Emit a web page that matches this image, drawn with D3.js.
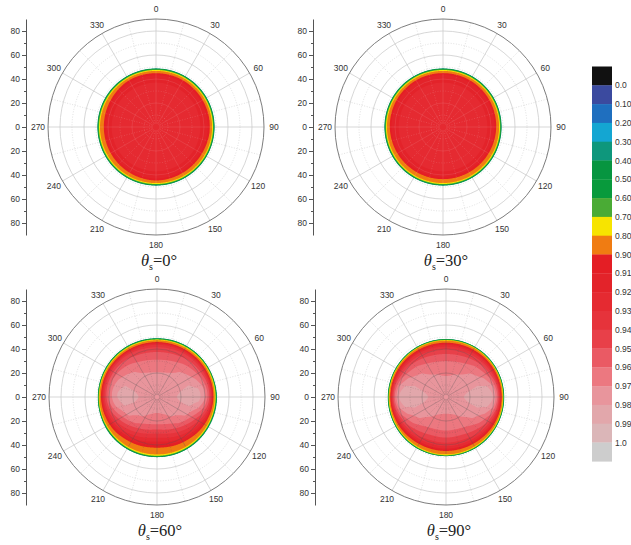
<!DOCTYPE html>
<html>
<head>
<meta charset="utf-8">
<script src="https://cdn.jsdelivr.net/npm/d3@7"></script>
<style>
  html, body { margin: 0; padding: 0; background: #fff; }
  svg { display: block; }
  .tick text, .lbl { font-family: "Liberation Sans", Arial, sans-serif; }
</style>
</head>
<body>
<svg id="chart" width="631" height="545"></svg>
<script>
// ---- data -------------------------------------------------------------
// Polar sampling of each map: rows = viewing zenith (deg), columns = azimuth (deg, 0 up, clockwise)
const zenithRows  = [0, 10, 20, 28, 35, 40, 43, 45, 46, 47, 48, 49, 50, 51];
const azimuthCols = [0, 30, 60, 90, 120, 150, 180, 210, 240, 270, 300, 330];

// theta_s = 0 deg
const grid0 = [
  [.925,.925,.925,.925,.925,.925,.925,.925,.925,.925,.925,.925],
  [.925,.925,.925,.925,.925,.925,.925,.925,.925,.925,.925,.925],
  [.925,.925,.925,.925,.925,.925,.925,.925,.925,.925,.925,.925],
  [.924,.924,.924,.924,.924,.924,.924,.924,.924,.924,.924,.924],
  [.922,.922,.922,.922,.922,.922,.922,.922,.922,.922,.922,.922],
  [.917,.917,.917,.917,.917,.917,.917,.917,.917,.917,.917,.917],
  [.911,.911,.911,.911,.909,.909,.910,.908,.905,.904,.907,.911],
  [.900,.900,.899,.900,.894,.894,.897,.892,.888,.887,.891,.900],
  [.860,.860,.860,.860,.855,.855,.857,.852,.850,.850,.852,.860],
  [.780,.780,.780,.780,.780,.780,.780,.780,.775,.775,.775,.780],
  [.620,.620,.620,.620,.620,.620,.620,.620,.620,.620,.620,.620],
  [.250,.250,.250,.250,.250,.250,.250,.250,.250,.250,.250,.250],
  [-1,-1,-1,-1,-1,-1,-1,-1,-1,-1,-1,-1],
  [-1,-1,-1,-1,-1,-1,-1,-1,-1,-1,-1,-1]
];

// theta_s = 30 deg
const grid30 = [
  [.925,.925,.925,.925,.925,.925,.925,.925,.925,.925,.925,.925],
  [.925,.925,.925,.925,.925,.925,.925,.925,.925,.925,.925,.925],
  [.925,.925,.925,.925,.925,.925,.925,.925,.925,.925,.925,.925],
  [.924,.924,.924,.924,.924,.924,.924,.924,.924,.924,.924,.924],
  [.922,.922,.922,.922,.922,.922,.922,.922,.922,.922,.922,.922],
  [.917,.917,.917,.917,.917,.917,.917,.917,.917,.917,.917,.917],
  [.912,.912,.911,.910,.908,.905,.904,.905,.908,.910,.911,.912],
  [.901,.900,.898,.895,.890,.887,.886,.887,.890,.895,.898,.900],
  [.860,.860,.858,.855,.850,.848,.848,.848,.850,.855,.858,.860],
  [.780,.780,.780,.780,.780,.780,.780,.780,.780,.780,.780,.780],
  [.620,.620,.620,.620,.620,.620,.620,.620,.620,.620,.620,.620],
  [.250,.250,.250,.250,.250,.250,.250,.250,.250,.250,.250,.250],
  [-1,-1,-1,-1,-1,-1,-1,-1,-1,-1,-1,-1],
  [-1,-1,-1,-1,-1,-1,-1,-1,-1,-1,-1,-1]
];

// theta_s = 60 deg
const grid60 = [
  [.975,.975,.975,.975,.975,.975,.975,.975,.975,.975,.975,.975],
  [.974,.974,.975,.977,.975,.973,.972,.973,.975,.977,.975,.974],
  [.9705,.972,.976,.9815,.975,.969,.966,.969,.975,.9825,.976,.972],
  [.964,.967,.976,.986,.972,.956,.948,.956,.972,.985,.976,.967],
  [.955,.958,.968,.983,.955,.937,.927,.937,.955,.978,.968,.958],
  [.945,.948,.957,.970,.940,.920,.912,.920,.940,.962,.957,.948],
  [.935,.938,.945,.955,.925,.905,.896,.905,.925,.945,.945,.938],
  [.915,.920,.930,.938,.910,.885,.875,.885,.910,.928,.930,.920],
  [.895,.900,.915,.925,.895,.870,.862,.870,.895,.915,.915,.900],
  [.850,.860,.885,.900,.865,.845,.840,.845,.865,.890,.885,.860],
  [.680,.720,.790,.830,.800,.800,.800,.800,.800,.810,.770,.720],
  [.350,.450,.580,.660,.640,.680,.700,.680,.640,.560,.500,.450],
  [-.6,-.5,-.2,.3,.25,.4,.45,.4,.25,-.3,-.3,-.5],
  [-1,-1,-1,-1,-1,-.5,-.5,-.5,-1,-1,-1,-1]
];

// theta_s = 90 deg
const grid90 = [
  [.975,.975,.975,.975,.975,.975,.975,.975,.975,.975,.975,.975],
  [.973,.974,.976,.978,.976,.973,.972,.973,.976,.978,.976,.974],
  [.969,.971,.976,.982,.976,.969,.967,.969,.976,.982,.976,.971],
  [.963,.966,.975,.987,.974,.962,.960,.962,.974,.987,.975,.966],
  [.952,.956,.968,.988,.965,.950,.948,.950,.965,.988,.968,.956],
  [.940,.944,.955,.978,.952,.937,.935,.937,.952,.978,.955,.944],
  [.925,.930,.940,.958,.935,.922,.920,.922,.935,.958,.940,.930],
  [.905,.910,.920,.935,.915,.902,.900,.902,.915,.935,.920,.910],
  [.885,.890,.905,.915,.900,.887,.885,.887,.900,.915,.905,.890],
  [.820,.825,.845,.865,.860,.855,.855,.855,.860,.865,.845,.825],
  [.550,.550,.580,.620,.680,.760,.790,.760,.680,.620,.580,.550],
  [-.2,-.2,-.15,0,.2,.5,.6,.5,.2,0,-.15,-.2],
  [-1,-1,-1,-1,-1,-.6,-.4,-.6,-1,-1,-1,-1],
  [-1,-1,-1,-1,-1,-1,-1,-1,-1,-1,-1,-1]
];

// colour levels (class boundaries) and the colour of each class, lowest first
const levelBreaks = [0, 0.1, 0.2, 0.3, 0.4, 0.5, 0.6, 0.7, 0.8, 0.9,
                     0.91, 0.92, 0.93, 0.94, 0.95, 0.96, 0.97, 0.98, 0.99, 1.0];
const levelColors = ["#111111", "#3b4a9f", "#1f6fbf", "#14a6d2", "#0e977c", "#079540",
                     "#089a3c", "#4aab35", "#f7e400", "#f07c12", "#e41e25", "#e3232a",
                     "#e52a31", "#e6333b", "#e84049", "#ea5a64", "#ec7880", "#e8959c",
                     "#e2a7ab", "#dbb6b8", "#cdcdcd"];
const colorbarLabels = ["0.0", "0.10", "0.20", "0.30", "0.40", "0.50", "0.60", "0.70", "0.80", "0.90",
                        "0.91", "0.92", "0.93", "0.94", "0.95", "0.96", "0.97", "0.98", "0.99", "1.0"];

const angleLabels = [0, 30, 60, 90, 120, 150, 180, 210, 240, 270, 300, 330];
const zenithMajorTicks = [-80, -60, -40, -20, 0, 20, 40, 60, 80];
const zenithMinorTicks = [-70, -50, -30, -10, 10, 30, 50, 70];
const captionAngles = ["0°", "30°", "60°", "90°"];

// ---- layout -----------------------------------------------------------
const svg = d3.select("#chart");
const R = 108;                 // pixel radius of the 90 deg ring
const panels = [
  { grid: grid0,  cap: captionAngles[0], cx: 156, cy: 127, axisX: 26,  overlay: "light" },
  { grid: grid30, cap: captionAngles[1], cx: 443, cy: 127, axisX: 313, overlay: "light" },
  { grid: grid60, cap: captionAngles[2], cx: 157, cy: 397, axisX: 26,  overlay: "dark" },
  { grid: grid90, cap: captionAngles[3], cx: 446, cy: 397, axisX: 315, overlay: "dark" }
];

const color = d3.scaleThreshold().domain(levelBreaks).range(levelColors);
const contourLevels = levelBreaks.filter(v => v >= 0.3);

// periodic Catmull-Rom along azimuth, linear along zenith
function catmull(p0, p1, p2, p3, t) {
  const t2 = t * t, t3 = t2 * t;
  return 0.5 * (2 * p1 + (-p0 + p2) * t + (2 * p0 - 5 * p1 + 4 * p2 - p3) * t2 + (-p0 + 3 * p1 - 3 * p2 + p3) * t3);
}
function fieldAt(grid, zen, az) {
  const last = zenithRows.length - 1;
  if (zen >= zenithRows[last]) return -1;
  const k = Math.min(d3.bisectRight(zenithRows, zen) - 1, last - 1);
  const t = (zen - zenithRows[k]) / (zenithRows[k + 1] - zenithRows[k]);
  const n = azimuthCols.length, dA = 360 / n;
  const u = az / dA, i0 = Math.floor(u), f = u - i0;
  const rowVal = row => catmull(row[(i0 - 1 + n) % n], row[i0 % n], row[(i0 + 1) % n], row[(i0 + 2) % n], f);
  return rowVal(grid[k]) * (1 - t) + rowVal(grid[k + 1]) * t;
}

const N = 241, EXT = 52, STEP = 2 * EXT / (N - 1);

function drawGrid(g, p, rs, st) {
  const rings = [10, 20, 30, 40, 50, 60, 70, 80];
  g.selectAll(null).data(rings).join("circle")
    .attr("cx", p.cx).attr("cy", p.cy).attr("r", d => rs(d))
    .attr("fill", "none")
    .attr("stroke", d => d % 20 === 0 ? st.solid : st.dot)
    .attr("stroke-width", d => d % 20 === 0 ? 0.8 : 0.7)
    .attr("stroke-dasharray", d => d % 20 === 0 ? null : "1,1.6");
  const spokes = d3.range(0, 360, 15);
  const r0 = st.inner || 0;
  g.selectAll(null).data(spokes).join("line")
    .attr("x1", d => p.cx + rs(r0) * Math.sin(d * Math.PI / 180))
    .attr("y1", d => p.cy - rs(r0) * Math.cos(d * Math.PI / 180))
    .attr("x2", d => p.cx + rs(90) * Math.sin(d * Math.PI / 180))
    .attr("y2", d => p.cy - rs(90) * Math.cos(d * Math.PI / 180))
    .attr("stroke", d => d % 30 === 0 ? st.solid : st.dot)
    .attr("stroke-width", d => d % 30 === 0 ? 0.8 : 0.7)
    .attr("stroke-dasharray", d => d % 30 === 0 ? null : "1,1.6");
}

panels.forEach((p, pi) => {
  const g = svg.append("g");
  const rs = d3.scaleLinear().domain([0, 90]).range([0, R]);
  const xs = d3.scaleLinear().domain([-90, 90]).range([p.cx - R, p.cx + R]);
  const ys = d3.scaleLinear().domain([-90, 90]).range([p.cy + R, p.cy - R]);

  // background polar grid
  drawGrid(g, p, rs, { solid: "#cdcdcd", dot: "#d2d2d2" });

  // filled contours of the field
  const values = new Float64Array(N * N);
  for (let j = 0; j < N; j++) {
    const y = EXT - j * STEP;
    for (let i = 0; i < N; i++) {
      const x = -EXT + i * STEP;
      const zen = Math.hypot(x, y);
      let az = Math.atan2(x, y) * 180 / Math.PI;
      if (az < 0) az += 360;
      values[j * N + i] = fieldAt(p.grid, zen, az);
    }
  }
  const bands = d3.contours().size([N, N]).thresholds(contourLevels)(values);
  const proj = d3.geoTransform({
    point: function (gx, gy) {
      this.stream.point(xs(-EXT + (gx - 0.5) * STEP), ys(EXT - (gy - 0.5) * STEP));
    }
  });
  const path = d3.geoPath(proj);
  g.append("g").selectAll("path").data(bands).join("path")
    .attr("d", path)
    .attr("fill", d => color(d.value));

  // grid seen through the map
  const clipId = "disk" + pi;
  g.append("clipPath").attr("id", clipId)
    .append("circle").attr("cx", p.cx).attr("cy", p.cy).attr("r", rs(47.5));
  const over = g.append("g").attr("clip-path", `url(#${clipId})`);
  drawGrid(over, p, rs, p.overlay === "light"
    ? { solid: "rgba(255,255,255,0.12)", dot: "rgba(255,255,255,0.2)", inner: 3 }
    : { solid: "rgba(80,80,80,0.36)", dot: "rgba(80,80,80,0.26)", inner: 2 });

  // outer ring
  g.append("circle").attr("cx", p.cx).attr("cy", p.cy).attr("r", rs(90))
    .attr("fill", "none").attr("stroke", "#6e6e6e").attr("stroke-width", 0.9);

  // azimuth labels
  g.selectAll(null).data(angleLabels).join("text")
    .attr("class", "lbl")
    .attr("x", d => p.cx + (R + 10) * Math.sin(d * Math.PI / 180))
    .attr("y", d => p.cy - (R + 10) * Math.cos(d * Math.PI / 180))
    .attr("text-anchor", "middle").attr("dominant-baseline", "central")
    .attr("font-size", 8.5).attr("fill", "#333")
    .text(d => d);

  // zenith axis
  const ax = g.append("g").attr("transform", `translate(${p.axisX},0)`)
    .call(d3.axisLeft(ys).tickValues(zenithMajorTicks).tickFormat(d => Math.abs(d))
      .tickSize(4).tickSizeOuter(0).tickPadding(2));
  ax.select(".domain").attr("stroke", "#555");
  ax.selectAll(".tick line").attr("stroke", "#555");
  ax.selectAll(".tick text").attr("font-size", 8.5).attr("fill", "#333");
  const axm = g.append("g").attr("transform", `translate(${p.axisX},0)`)
    .call(d3.axisLeft(ys).tickValues(zenithMinorTicks).tickFormat("").tickSize(2).tickSizeOuter(0));
  axm.select(".domain").remove();
  axm.selectAll(".tick line").attr("stroke", "#555");

  // caption
  const cap = g.append("text")
    .attr("x", p.cx + 3).attr("y", p.cy + 139)
    .attr("text-anchor", "middle")
    .attr("font-family", "'Liberation Serif', 'Times New Roman', serif")
    .attr("font-size", 16.5).attr("fill", "#222");
  cap.append("tspan").attr("font-style", "italic").text("θ");
  cap.append("tspan").attr("font-size", 10).attr("dy", 4).text("s");
  cap.append("tspan").attr("dy", -4).text("=" + p.cap);
});

// ---- colour bar ---------------------------------------------------------
const cb = svg.append("g");
const cbY = d3.scaleBand().domain(d3.range(levelColors.length)).range([66.5, 461.3]).paddingInner(0);
cb.selectAll("rect").data(levelColors).join("rect")
  .attr("x", 592).attr("width", 20)
  .attr("y", (d, i) => cbY(i)).attr("height", cbY.bandwidth() + 0.3)
  .attr("fill", d => d);
cb.selectAll("text").data(colorbarLabels).join("text")
  .attr("class", "lbl")
  .attr("x", 615).attr("y", (d, i) => cbY(i + 1))
  .attr("dominant-baseline", "central")
  .attr("font-size", 8.5).attr("fill", "#333")
  .text(d => d);
</script>
</body>
</html>
